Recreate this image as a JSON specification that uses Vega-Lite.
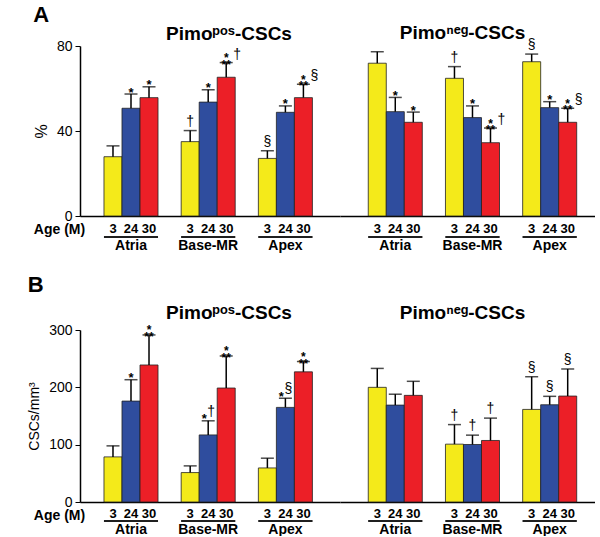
{
  "$schema": "https://vega.github.io/schema/vega-lite/v6.json",
  "background": "white",
  "padding": {"left": 27, "top": 4, "right": 0, "bottom": 0},
  "config": {
    "font": "Liberation Sans",
    "view": {"stroke": null},
    "axis": {"labelColor": "black", "titleColor": "black", "grid": false, "domainColor": "black", "tickColor": "black"},
    "title": {"color": "black"},
    "text": {"color": "black"}
  },
  "datasets": {
    "A": [
      {"set": "pos", "region": "Atria", "age": "3", "mean": 27.9, "err": 33, "star": "", "sym": ""},
      {"set": "pos", "region": "Atria", "age": "24", "mean": 50.7, "err": 57.4, "star": "*", "sym": ""},
      {"set": "pos", "region": "Atria", "age": "30", "mean": 55.7, "err": 60.8, "star": "*", "sym": ""},
      {"set": "pos", "region": "Base-MR", "age": "3", "mean": 35, "err": 40.2, "star": "", "sym": "†"},
      {"set": "pos", "region": "Base-MR", "age": "24", "mean": 53.6, "err": 59.4, "star": "*", "sym": ""},
      {"set": "pos", "region": "Base-MR", "age": "30", "mean": 65.3, "err": 72.2, "star": "*\n**", "sym": "†"},
      {"set": "pos", "region": "Apex", "age": "3", "mean": 27.1, "err": 30.7, "star": "", "sym": "§"},
      {"set": "pos", "region": "Apex", "age": "24", "mean": 48.8, "err": 51.8, "star": "*", "sym": ""},
      {"set": "pos", "region": "Apex", "age": "30", "mean": 55.7, "err": 62, "star": "*\n**", "sym": "§"},
      {"set": "neg", "region": "Atria", "age": "3", "mean": 71.9, "err": 77.3, "star": "", "sym": ""},
      {"set": "neg", "region": "Atria", "age": "24", "mean": 49.1, "err": 55.8, "star": "*", "sym": ""},
      {"set": "neg", "region": "Atria", "age": "30", "mean": 44.1, "err": 48.9, "star": "*", "sym": ""},
      {"set": "neg", "region": "Base-MR", "age": "3", "mean": 64.8, "err": 70.3, "star": "", "sym": "†"},
      {"set": "neg", "region": "Base-MR", "age": "24", "mean": 46.3, "err": 51.8, "star": "*", "sym": ""},
      {"set": "neg", "region": "Base-MR", "age": "30", "mean": 34.5, "err": 41.4, "star": "*\n**", "sym": "†"},
      {"set": "neg", "region": "Apex", "age": "3", "mean": 72.6, "err": 76.2, "star": "", "sym": "§"},
      {"set": "neg", "region": "Apex", "age": "24", "mean": 51, "err": 53.8, "star": "*", "sym": ""},
      {"set": "neg", "region": "Apex", "age": "30", "mean": 44.1, "err": 50.7, "star": "*\n**", "sym": "§"}
    ],
    "B": [
      {"set": "pos", "region": "Atria", "age": "3", "mean": 78.7, "err": 97.9, "star": "", "sym": ""},
      {"set": "pos", "region": "Atria", "age": "24", "mean": 176, "err": 213.3, "star": "*", "sym": ""},
      {"set": "pos", "region": "Atria", "age": "30", "mean": 239, "err": 291.4, "star": "*\n**", "sym": ""},
      {"set": "pos", "region": "Base-MR", "age": "3", "mean": 51.3, "err": 63, "star": "", "sym": ""},
      {"set": "pos", "region": "Base-MR", "age": "24", "mean": 117, "err": 141.6, "star": "*", "sym": "†"},
      {"set": "pos", "region": "Base-MR", "age": "30", "mean": 198.8, "err": 254.7, "star": "*\n**", "sym": ""},
      {"set": "pos", "region": "Apex", "age": "3", "mean": 59.4, "err": 76.4, "star": "", "sym": ""},
      {"set": "pos", "region": "Apex", "age": "24", "mean": 165, "err": 181, "star": "*", "sym": "§"},
      {"set": "pos", "region": "Apex", "age": "30", "mean": 227, "err": 245, "star": "*\n**", "sym": ""},
      {"set": "neg", "region": "Atria", "age": "3", "mean": 200, "err": 233, "star": "", "sym": ""},
      {"set": "neg", "region": "Atria", "age": "24", "mean": 169, "err": 188, "star": "", "sym": ""},
      {"set": "neg", "region": "Atria", "age": "30", "mean": 186, "err": 210.5, "star": "", "sym": ""},
      {"set": "neg", "region": "Base-MR", "age": "3", "mean": 100.9, "err": 135, "star": "", "sym": "†"},
      {"set": "neg", "region": "Base-MR", "age": "24", "mean": 100.3, "err": 116.6, "star": "", "sym": "†"},
      {"set": "neg", "region": "Base-MR", "age": "30", "mean": 107.3, "err": 146.3, "star": "", "sym": "†"},
      {"set": "neg", "region": "Apex", "age": "3", "mean": 161.5, "err": 218.5, "star": "", "sym": "§"},
      {"set": "neg", "region": "Apex", "age": "24", "mean": 169.6, "err": 184.3, "star": "", "sym": "§"},
      {"set": "neg", "region": "Apex", "age": "30", "mean": 184.8, "err": 232, "star": "", "sym": "§"}
    ]
  },
  "spacing": 22,
  "vconcat": [
    {
      "title": {"text": "A", "anchor": "start", "fontSize": 22, "fontWeight": "bold", "frame": "bounds", "offset": -3},
      "spacing": 0,
      "resolve": {"scale": {"x": "independent", "xOffset": "independent"}},
      "hconcat": [
        {
          "width": 260, "height": 170,
          "data": {"name": "A"},
          "title": {"text": "Pimoᵖᵒˢ-CSCs", "fontSize": 19, "fontWeight": "bold", "anchor": "middle", "frame": "group", "dx": 19, "offset": -5},
          "transform": [{"filter": "datum.set === 'pos'"}],
          "encoding": {
            "x": {"field": "region", "type": "nominal", "sort": ["Atria", "Base-MR", "Apex"],
              "scale": {"paddingInner": 0.3, "paddingOuter": 0.334, "align": 0.465},
              "axis": {"title": "Age (M)", "titleX": -21, "titleY": 13, "titleAlign": "center", "titleBaseline": "middle", "titleAngle": 0, "titleFontSize": 14, "titleFontWeight": "bold", "labelAngle": 0, "ticks": false, "labelPadding": 22, "labelFontSize": 14, "labelFontWeight": "bold", "domainWidth": 1.5}}
          },
          "layer": [
            {"mark": {"type": "bar", "stroke": "#222222", "strokeWidth": 0.8},
             "encoding": {
               "xOffset": {"field": "age", "type": "nominal", "sort": ["3", "24", "30"]},
               "y": {"field": "mean", "type": "quantitative", "title": "%", "scale": {"domain": [0, 80], "nice": false},
                 "axis": {"values": [0, 40, 80], "tickSize": 5, "labelFontSize": 14, "labelPadding": 3, "titleFontSize": 16, "titleFontWeight": "normal", "titlePadding": 7, "domainWidth": 1.5}},
               "color": {"field": "age", "type": "nominal", "scale": {"domain": ["3", "24", "30"], "range": ["#f4ea1a", "#2f4d9e", "#ec1f27"]}, "legend": null}
             }},
            {"mark": {"type": "rule", "strokeWidth": 1.5, "color": "black"},
             "encoding": {"xOffset": {"field": "age", "type": "nominal", "sort": ["3", "24", "30"]}, "y": {"field": "mean", "type": "quantitative", "title": "%"}, "y2": {"field": "err"}}},
            {"mark": {"type": "tick", "thickness": 1.5, "size": 13, "color": "black", "orient": "horizontal"},
             "encoding": {"xOffset": {"field": "age", "type": "nominal", "sort": ["3", "24", "30"]}, "y": {"field": "err", "type": "quantitative", "title": "%"}}},
            {"transform": [{"filter": "datum.star === '*' && datum.sym === ''"}],
             "mark": {"type": "text", "baseline": "bottom", "dy": 5.5, "fontSize": 13, "fontWeight": "bold"},
             "encoding": {"xOffset": {"field": "age", "type": "nominal", "sort": ["3", "24", "30"]}, "y": {"field": "err", "type": "quantitative", "title": "%"}, "text": {"field": "star"}}},
            {"transform": [{"filter": "datum.star === '*' && datum.sym !== ''"}],
             "mark": {"type": "text", "baseline": "bottom", "dy": 5.5, "dx": -4, "fontSize": 13, "fontWeight": "bold"},
             "encoding": {"xOffset": {"field": "age", "type": "nominal", "sort": ["3", "24", "30"]}, "y": {"field": "err", "type": "quantitative", "title": "%"}, "text": {"field": "star"}}},
            {"transform": [{"filter": "datum.star.length > 1"}],
             "mark": {"type": "text", "baseline": "bottom", "dy": 2.5, "fontSize": 12, "fontWeight": "bold", "lineBreak": "\n", "lineHeight": 6.5},
             "encoding": {"xOffset": {"field": "age", "type": "nominal", "sort": ["3", "24", "30"]}, "y": {"field": "err", "type": "quantitative", "title": "%"}, "text": {"field": "star"}}},
            {"transform": [{"filter": "datum.sym !== '' && datum.star === ''"}],
             "mark": {"type": "text", "baseline": "alphabetic", "dy": -5, "fontSize": 14},
             "encoding": {"xOffset": {"field": "age", "type": "nominal", "sort": ["3", "24", "30"]}, "y": {"field": "err", "type": "quantitative", "title": "%"}, "text": {"field": "sym"}}},
            {"transform": [{"filter": "datum.sym !== '' && datum.star === '*'"}],
             "mark": {"type": "text", "baseline": "alphabetic", "dy": -5, "dx": 3, "fontSize": 14},
             "encoding": {"xOffset": {"field": "age", "type": "nominal", "sort": ["3", "24", "30"]}, "y": {"field": "err", "type": "quantitative", "title": "%"}, "text": {"field": "sym"}}},
            {"transform": [{"filter": "datum.sym !== '' && datum.star.length > 1"}],
             "mark": {"type": "text", "baseline": "alphabetic", "dy": -4, "dx": 11, "fontSize": 14},
             "encoding": {"xOffset": {"field": "age", "type": "nominal", "sort": ["3", "24", "30"]}, "y": {"field": "err", "type": "quantitative", "title": "%"}, "text": {"field": "sym"}}},
            {"mark": {"type": "text", "baseline": "middle", "dy": 13, "fontSize": 13, "fontWeight": "bold"},
             "encoding": {"xOffset": {"field": "age", "type": "nominal", "sort": ["3", "24", "30"]}, "y": {"datum": 0, "type": "quantitative"}, "text": {"field": "age"}}},
            {"mark": {"type": "rule", "color": "black", "strokeWidth": 1, "yOffset": 21},
             "encoding": {"x": {"field": "region", "type": "nominal", "sort": ["Atria", "Base-MR", "Apex"], "bandPosition": 0}, "x2": {"field": "region", "bandPosition": 1}, "y": {"datum": 0, "type": "quantitative"}}}
          ]
        },
        {
          "width": 255, "height": 170,
          "data": {"name": "A"},
          "title": {"text": "Pimoⁿᵉᵍ-CSCs", "fontSize": 19, "fontWeight": "bold", "anchor": "middle", "frame": "group", "dx": -5, "offset": -5},
          "transform": [{"filter": "datum.set === 'neg'"}],
          "encoding": {
            "x": {"field": "region", "type": "nominal", "sort": ["Atria", "Base-MR", "Apex"],
              "scale": {"paddingInner": 0.3, "paddingOuter": 0.3015, "align": 0.607},
              "axis": {"title": null, "labelAngle": 0, "ticks": false, "labelPadding": 22, "labelFontSize": 14, "labelFontWeight": "bold", "domainWidth": 1.5}}
          },
          "layer": [
            {"mark": {"type": "bar", "stroke": "#222222", "strokeWidth": 0.8},
             "encoding": {
               "xOffset": {"field": "age", "type": "nominal", "sort": ["3", "24", "30"]},
               "y": {"field": "mean", "type": "quantitative", "scale": {"domain": [0, 80], "nice": false}, "axis": null},
               "color": {"field": "age", "type": "nominal", "scale": {"domain": ["3", "24", "30"], "range": ["#f4ea1a", "#2f4d9e", "#ec1f27"]}, "legend": null}
             }},
            {"mark": {"type": "rule", "strokeWidth": 1.5, "color": "black"},
             "encoding": {"xOffset": {"field": "age", "type": "nominal", "sort": ["3", "24", "30"]}, "y": {"field": "mean", "type": "quantitative", "axis": null}, "y2": {"field": "err"}}},
            {"mark": {"type": "tick", "thickness": 1.5, "size": 13, "color": "black", "orient": "horizontal"},
             "encoding": {"xOffset": {"field": "age", "type": "nominal", "sort": ["3", "24", "30"]}, "y": {"field": "err", "type": "quantitative", "axis": null}}},
            {"transform": [{"filter": "datum.star === '*' && datum.sym === ''"}],
             "mark": {"type": "text", "baseline": "bottom", "dy": 5.5, "fontSize": 13, "fontWeight": "bold"},
             "encoding": {"xOffset": {"field": "age", "type": "nominal", "sort": ["3", "24", "30"]}, "y": {"field": "err", "type": "quantitative", "axis": null}, "text": {"field": "star"}}},
            {"transform": [{"filter": "datum.star.length > 1"}],
             "mark": {"type": "text", "baseline": "bottom", "dy": 2.5, "fontSize": 12, "fontWeight": "bold", "lineBreak": "\n", "lineHeight": 6.5},
             "encoding": {"xOffset": {"field": "age", "type": "nominal", "sort": ["3", "24", "30"]}, "y": {"field": "err", "type": "quantitative", "axis": null}, "text": {"field": "star"}}},
            {"transform": [{"filter": "datum.sym !== '' && datum.star === ''"}],
             "mark": {"type": "text", "baseline": "alphabetic", "dy": -5, "fontSize": 14},
             "encoding": {"xOffset": {"field": "age", "type": "nominal", "sort": ["3", "24", "30"]}, "y": {"field": "err", "type": "quantitative", "axis": null}, "text": {"field": "sym"}}},
            {"transform": [{"filter": "datum.sym !== '' && datum.star.length > 1"}],
             "mark": {"type": "text", "baseline": "alphabetic", "dy": -4, "dx": 11, "fontSize": 14},
             "encoding": {"xOffset": {"field": "age", "type": "nominal", "sort": ["3", "24", "30"]}, "y": {"field": "err", "type": "quantitative", "axis": null}, "text": {"field": "sym"}}},
            {"mark": {"type": "text", "baseline": "middle", "dy": 13, "fontSize": 13, "fontWeight": "bold"},
             "encoding": {"xOffset": {"field": "age", "type": "nominal", "sort": ["3", "24", "30"]}, "y": {"datum": 0, "type": "quantitative", "axis": null}, "text": {"field": "age"}}},
            {"mark": {"type": "rule", "color": "black", "strokeWidth": 1, "yOffset": 21},
             "encoding": {"x": {"field": "region", "type": "nominal", "sort": ["Atria", "Base-MR", "Apex"], "bandPosition": 0}, "x2": {"field": "region", "bandPosition": 1}, "y": {"datum": 0, "type": "quantitative", "axis": null}}}
          ]
        }
      ]
    },
    {
      "title": {"text": "B", "anchor": "start", "fontSize": 22, "fontWeight": "bold", "frame": "bounds", "offset": 7},
      "spacing": 0,
      "resolve": {"scale": {"x": "independent", "xOffset": "independent"}},
      "hconcat": [
        {
          "width": 260, "height": 172,
          "data": {"name": "B"},
          "title": {"text": "Pimoᵖᵒˢ-CSCs", "fontSize": 19, "fontWeight": "bold", "anchor": "middle", "frame": "group", "dx": 19, "offset": 0},
          "transform": [{"filter": "datum.set === 'pos'"}],
          "encoding": {
            "x": {"field": "region", "type": "nominal", "sort": ["Atria", "Base-MR", "Apex"],
              "scale": {"paddingInner": 0.3, "paddingOuter": 0.334, "align": 0.465},
              "axis": {"title": "Age (M)", "titleX": -21, "titleY": 13, "titleAlign": "center", "titleBaseline": "middle", "titleAngle": 0, "titleFontSize": 14, "titleFontWeight": "bold", "labelAngle": 0, "ticks": false, "labelPadding": 20, "labelFontSize": 14, "labelFontWeight": "bold", "domainWidth": 1.5}}
          },
          "layer": [
            {"mark": {"type": "bar", "stroke": "#222222", "strokeWidth": 0.8},
             "encoding": {
               "xOffset": {"field": "age", "type": "nominal", "sort": ["3", "24", "30"]},
               "y": {"field": "mean", "type": "quantitative", "title": "CSCs/mm³", "scale": {"domain": [0, 300], "nice": false},
                 "axis": {"values": [0, 100, 200, 300], "tickSize": 5, "labelFontSize": 14, "labelPadding": 3, "titleFontSize": 14, "titleFontWeight": "normal", "titlePadding": 7, "domainWidth": 1.5}},
               "color": {"field": "age", "type": "nominal", "scale": {"domain": ["3", "24", "30"], "range": ["#f4ea1a", "#2f4d9e", "#ec1f27"]}, "legend": null}
             }},
            {"mark": {"type": "rule", "strokeWidth": 1.5, "color": "black"},
             "encoding": {"xOffset": {"field": "age", "type": "nominal", "sort": ["3", "24", "30"]}, "y": {"field": "mean", "type": "quantitative", "title": "CSCs/mm³"}, "y2": {"field": "err"}}},
            {"mark": {"type": "tick", "thickness": 1.5, "size": 13, "color": "black", "orient": "horizontal"},
             "encoding": {"xOffset": {"field": "age", "type": "nominal", "sort": ["3", "24", "30"]}, "y": {"field": "err", "type": "quantitative", "title": "CSCs/mm³"}}},
            {"transform": [{"filter": "datum.star === '*' && datum.sym === ''"}],
             "mark": {"type": "text", "baseline": "bottom", "dy": 5.5, "fontSize": 13, "fontWeight": "bold"},
             "encoding": {"xOffset": {"field": "age", "type": "nominal", "sort": ["3", "24", "30"]}, "y": {"field": "err", "type": "quantitative", "title": "CSCs/mm³"}, "text": {"field": "star"}}},
            {"transform": [{"filter": "datum.star === '*' && datum.sym !== ''"}],
             "mark": {"type": "text", "baseline": "bottom", "dy": 5.5, "dx": -4, "fontSize": 13, "fontWeight": "bold"},
             "encoding": {"xOffset": {"field": "age", "type": "nominal", "sort": ["3", "24", "30"]}, "y": {"field": "err", "type": "quantitative", "title": "CSCs/mm³"}, "text": {"field": "star"}}},
            {"transform": [{"filter": "datum.star.length > 1"}],
             "mark": {"type": "text", "baseline": "bottom", "dy": 2.5, "fontSize": 12, "fontWeight": "bold", "lineBreak": "\n", "lineHeight": 6.5},
             "encoding": {"xOffset": {"field": "age", "type": "nominal", "sort": ["3", "24", "30"]}, "y": {"field": "err", "type": "quantitative", "title": "CSCs/mm³"}, "text": {"field": "star"}}},
            {"transform": [{"filter": "datum.sym !== '' && datum.star === '*'"}],
             "mark": {"type": "text", "baseline": "alphabetic", "dy": -5, "dx": 3, "fontSize": 14},
             "encoding": {"xOffset": {"field": "age", "type": "nominal", "sort": ["3", "24", "30"]}, "y": {"field": "err", "type": "quantitative", "title": "CSCs/mm³"}, "text": {"field": "sym"}}},
            {"mark": {"type": "text", "baseline": "middle", "dy": 12, "fontSize": 13, "fontWeight": "bold"},
             "encoding": {"xOffset": {"field": "age", "type": "nominal", "sort": ["3", "24", "30"]}, "y": {"datum": 0, "type": "quantitative"}, "text": {"field": "age"}}},
            {"mark": {"type": "rule", "color": "black", "strokeWidth": 1, "yOffset": 19},
             "encoding": {"x": {"field": "region", "type": "nominal", "sort": ["Atria", "Base-MR", "Apex"], "bandPosition": 0}, "x2": {"field": "region", "bandPosition": 1}, "y": {"datum": 0, "type": "quantitative"}}}
          ]
        },
        {
          "width": 255, "height": 172,
          "data": {"name": "B"},
          "title": {"text": "Pimoⁿᵉᵍ-CSCs", "fontSize": 19, "fontWeight": "bold", "anchor": "middle", "frame": "group", "dx": -5, "offset": 7},
          "transform": [{"filter": "datum.set === 'neg'"}],
          "encoding": {
            "x": {"field": "region", "type": "nominal", "sort": ["Atria", "Base-MR", "Apex"],
              "scale": {"paddingInner": 0.3, "paddingOuter": 0.3015, "align": 0.607},
              "axis": {"title": null, "labelAngle": 0, "ticks": false, "labelPadding": 20, "labelFontSize": 14, "labelFontWeight": "bold", "domainWidth": 1.5}}
          },
          "layer": [
            {"mark": {"type": "bar", "stroke": "#222222", "strokeWidth": 0.8},
             "encoding": {
               "xOffset": {"field": "age", "type": "nominal", "sort": ["3", "24", "30"]},
               "y": {"field": "mean", "type": "quantitative", "scale": {"domain": [0, 300], "nice": false}, "axis": null},
               "color": {"field": "age", "type": "nominal", "scale": {"domain": ["3", "24", "30"], "range": ["#f4ea1a", "#2f4d9e", "#ec1f27"]}, "legend": null}
             }},
            {"mark": {"type": "rule", "strokeWidth": 1.5, "color": "black"},
             "encoding": {"xOffset": {"field": "age", "type": "nominal", "sort": ["3", "24", "30"]}, "y": {"field": "mean", "type": "quantitative", "axis": null}, "y2": {"field": "err"}}},
            {"mark": {"type": "tick", "thickness": 1.5, "size": 13, "color": "black", "orient": "horizontal"},
             "encoding": {"xOffset": {"field": "age", "type": "nominal", "sort": ["3", "24", "30"]}, "y": {"field": "err", "type": "quantitative", "axis": null}}},
            {"transform": [{"filter": "datum.sym !== '' && datum.star === ''"}],
             "mark": {"type": "text", "baseline": "alphabetic", "dy": -5, "fontSize": 14},
             "encoding": {"xOffset": {"field": "age", "type": "nominal", "sort": ["3", "24", "30"]}, "y": {"field": "err", "type": "quantitative", "axis": null}, "text": {"field": "sym"}}},
            {"mark": {"type": "text", "baseline": "middle", "dy": 12, "fontSize": 13, "fontWeight": "bold"},
             "encoding": {"xOffset": {"field": "age", "type": "nominal", "sort": ["3", "24", "30"]}, "y": {"datum": 0, "type": "quantitative", "axis": null}, "text": {"field": "age"}}},
            {"mark": {"type": "rule", "color": "black", "strokeWidth": 1, "yOffset": 19},
             "encoding": {"x": {"field": "region", "type": "nominal", "sort": ["Atria", "Base-MR", "Apex"], "bandPosition": 0}, "x2": {"field": "region", "bandPosition": 1}, "y": {"datum": 0, "type": "quantitative", "axis": null}}}
          ]
        }
      ]
    }
  ]
}
